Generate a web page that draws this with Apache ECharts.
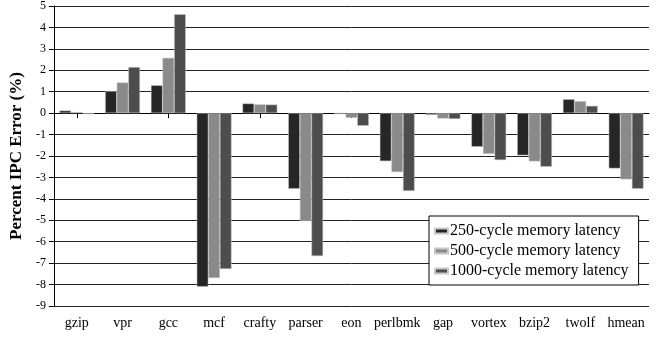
<!DOCTYPE html>
<html><head><meta charset="utf-8">
<script src="https://cdn.jsdelivr.net/npm/echarts@6/dist/echarts.min.js"></script>
<style>html,body{margin:0;padding:0;background:#fff}#c{width:660px;height:337px}</style>
</head><body><div id="c"></div>
<script>
var categories = ['gzip','vpr','gcc','mcf','crafty','parser','eon','perlbmk','gap','vortex','bzip2','twolf','hmean'];
var lat250 = [0.12, 1.02, 1.3, -8.1, 0.45, -3.53, -0.02, -2.24, -0.08, -1.57, -1.97, 0.65, -2.58];
var lat500 = [0.05, 1.43, 2.58, -7.69, 0.41, -5.03, -0.22, -2.75, -0.25, -1.9, -2.25, 0.56, -3.09];
var lat1000 = [-0.05, 2.15, 4.62, -7.27, 0.4, -6.67, -0.59, -3.63, -0.27, -2.19, -2.5, 0.34, -3.53];
var seriesNames = ['250-cycle memory latency','500-cycle memory latency','1000-cycle memory latency'];
var colors = ['#262626','#8a8a8a','#4d4d4d'];
var serif = '"Liberation Serif", "DejaVu Serif", serif';
var chart = echarts.init(document.getElementById('c'));
function mk(name, data, color) {
  return {name: name, type: 'bar', data: data, xAxisIndex: 0, barGap: '0%', barCategoryGap: '24%',
    itemStyle: {color: color, borderColor: '#c8c8c8', borderWidth: 0.5}, z: 3};
}
chart.setOption({
  animation: false,
  grid: {left: 52, right: 11, top: 6, bottom: 31},
  legend: {
    orient: 'vertical', left: 429, top: 216,
    data: seriesNames, icon: 'rect', itemWidth: 13, itemHeight: 5, itemGap: 4,
    padding: [7, 10, 6, 5], borderColor: '#000', borderWidth: 1, backgroundColor: '#fff',
    textStyle: {fontFamily: serif, fontSize: 16, color: '#000', padding: [0,0,0,-3]}, z: 10
  },
  xAxis: [
    {type: 'category', data: categories, position: 'bottom',
     axisLine: {show: false, onZero: false}, axisTick: {show: false},
     axisLabel: {fontFamily: serif, fontSize: 14, color: '#000', margin: 10, interval: 0},
     splitLine: {show: false}},
    {type: 'category', data: categories, position: 'bottom',
     axisLine: {show: true, onZero: true, lineStyle: {color: '#000', width: 1}},
     axisTick: {show: true, alignWithLabel: true, length: 5, lineStyle: {color: '#000'}},
     axisLabel: {show: false}, splitLine: {show: false}}
  ],
  yAxis: {
    type: 'value', min: -9, max: 5, interval: 1,
    name: 'Percent IPC Error (%)', nameLocation: 'middle', nameGap: 22,
    nameTextStyle: {fontFamily: serif, fontSize: 17, fontWeight: 'bold', color: '#000'},
    axisLine: {show: true, lineStyle: {color: '#000'}},
    axisTick: {show: true, length: 5, lineStyle: {color: '#000'}},
    axisLabel: {fontFamily: serif, fontSize: 12, color: '#000', margin: 8},
    splitLine: {show: true, lineStyle: {color: '#222', width: 1}}
  },
  series: [mk(seriesNames[0], lat250, colors[0]), mk(seriesNames[1], lat500, colors[1]), mk(seriesNames[2], lat1000, colors[2])]
});
</script></body></html>
